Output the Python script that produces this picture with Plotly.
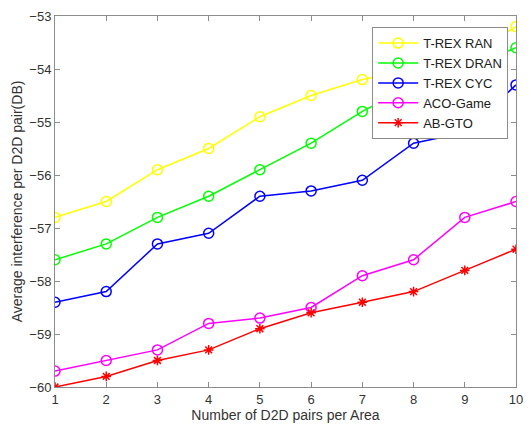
import plotly.graph_objects as go

x_vals = [1, 2, 3, 4, 5, 6, 7, 8, 9, 10]
trex_ran = [-56.8, -56.5, -55.9, -55.5, -54.9, -54.5, -54.2, -54.0, -53.8, -53.2]
trex_dran = [-57.6, -57.3, -56.8, -56.4, -55.9, -55.4, -54.8, -54.3, -54.0, -53.6]
trex_cyc = [-58.4, -58.2, -57.3, -57.1, -56.4, -56.3, -56.1, -55.4, -55.2, -54.3]
aco_game = [-59.7, -59.5, -59.3, -58.8, -58.7, -58.5, -57.9, -57.6, -56.8, -56.5]
ab_gto = [-60.0, -59.8, -59.5, -59.3, -58.9, -58.6, -58.4, -58.2, -57.8, -57.4]
y_ticks = [-60, -59, -58, -57, -56, -55, -54, -53]

series = [
    ("T-REX RAN", trex_ran, "#FFFF00", "circle-open"),
    ("T-REX DRAN", trex_dran, "#00FF00", "circle-open"),
    ("T-REX CYC", trex_cyc, "#0000FF", "circle-open"),
    ("ACO-Game", aco_game, "#FF00FF", "circle-open"),
    ("AB-GTO", ab_gto, "#FF0000", "asterisk-open"),
]

fig = go.Figure()
for name, ys, col, sym in series:
    fig.add_trace(go.Scatter(
        x=x_vals, y=ys, name=name, mode="lines+markers",
        line=dict(color=col, width=1.5),
        marker=dict(symbol=sym, size=10 if sym == "circle-open" else 8, color=col,
                    line=dict(color=col, width=1.5)),
    ))

axis_common = dict(
    showgrid=False, zeroline=False, showline=True, mirror="ticks",
    linecolor="#8c8c8c", linewidth=1, ticks="inside", ticklen=5,
    tickcolor="#8c8c8c", tickfont=dict(family="Liberation Sans, Arial", size=13, color="#333333"),
)

fig.update_layout(
    width=531, height=432,
    margin=dict(l=55, r=8, t=16, b=45),
    paper_bgcolor="white", plot_bgcolor="white",
    font=dict(family="Liberation Sans, Arial", size=13, color="#333333"),
    xaxis=dict(range=[1, 10], tickvals=x_vals,
               title=dict(text="Number of D2D pairs per Area", standoff=4,
                          font=dict(size=14, color="#333333")),
               **axis_common),
    yaxis=dict(range=[-60, -53], tickvals=y_ticks,
               title=dict(text="Average interference per D2D pair(DB)", standoff=3,
                          font=dict(size=14, color="#333333")),
               **axis_common),
    legend=dict(x=0.688, y=0.97, xanchor="left", yanchor="top",
                bgcolor="white", bordercolor="#8c8c8c", borderwidth=1,
                font=dict(family="Liberation Sans, Arial", size=13, color="#202020"),
                tracegroupgap=0, itemwidth=40),
    showlegend=True,
)

fig.write_html("out.html")
